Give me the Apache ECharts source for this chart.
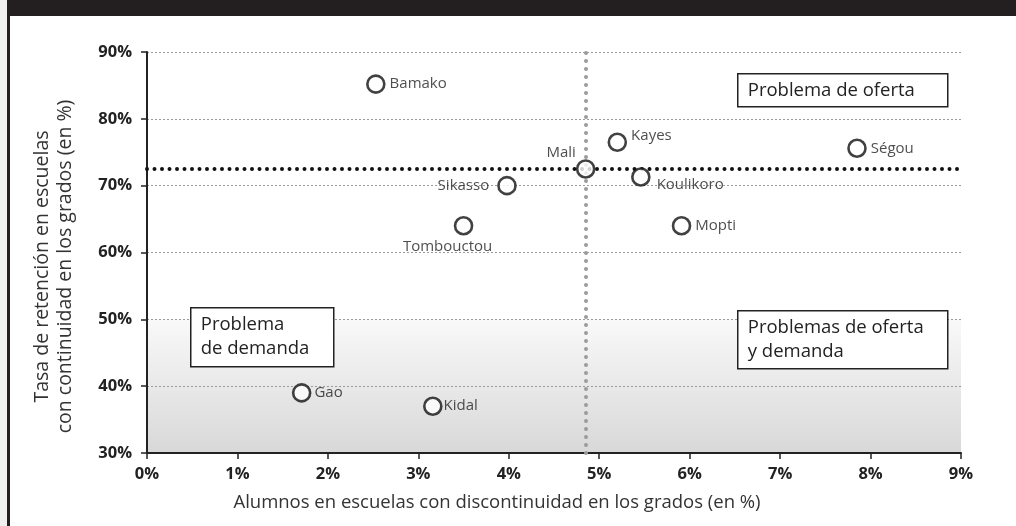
<!DOCTYPE html>
<html>
<head>
<meta charset="utf-8">
<script src="https://cdn.jsdelivr.net/npm/echarts@6/dist/echarts.min.js"></script>
<style>
  html, body { margin: 0; padding: 0; background: #fff; }
  #chart { width: 1016px; height: 526px; }
</style>
</head>
<body>
<div id="chart"></div>
<script>
// regiones de Malí
var regions   = ['Bamako', 'Kayes', 'Mali', 'Sikasso', 'Koulikoro', 'Tombouctou', 'Mopti', 'Ségou', 'Gao', 'Kidal'];
var pctDiscont = [2.53, 5.2, 4.85, 3.98, 5.46, 3.5, 5.91, 7.85, 1.71, 3.16];   // eje x (%)
var retention  = [85.2, 76.5, 72.5, 70.0, 71.3, 64.0, 64.0, 75.6, 39.0, 37.0]; // eje y (%)
var maliX = 4.85;
var maliY = 72.5;
var xTicks = [0, 9, 1];
var yTicks = [30, 90, 10];

// donde va cada etiqueta
var labelCfg = {
    'Bamako':     { position: 'right', distance: 4 },
    'Kayes':      { position: 'right', distance: 4, offset: [0, -6] },
    'Mali':       { position: 'left', distance: 2, offset: [2, -16] },
    'Sikasso':    { position: 'left', distance: 8 },
    'Koulikoro':  { position: 'right', distance: 6, offset: [0, 8] },
    'Tombouctou': { position: 'bottom', distance: 4, offset: [-16, 0] },
    'Mopti':      { position: 'right', distance: 4 },
    'Ségou':      { position: 'right', distance: 4 },
    'Gao':        { position: 'right', distance: 3 },
    'Kidal':      { position: 'right', distance: 1 }
};

var points = regions.map(function (name, i) {
    var l = labelCfg[name];
    return {
        name: name,
        value: [pctDiscont[i], retention[i]],
        label: {
            show: true,
            formatter: name,
            position: l.position,
            distance: l.distance,
            offset: l.offset || [0, 0]
        }
    };
});

var boxFont = '18.5px "Open Sans", sans-serif';

function box(x, y, w, h, text) {
    return {
        type: 'group',
        left: x, top: y,
        z: 100,
        children: [
            { type: 'rect', z: 100, shape: { x: 0, y: 0, width: w, height: h },
              style: { fill: '#fff', stroke: '#222', lineWidth: 1.5 } },
            { type: 'text', z: 101, x: 10, y: 5,
              style: { text: text, font: boxFont, fill: '#222', lineHeight: 24 } }
        ]
    };
}

var chart = echarts.init(document.getElementById('chart'));
chart.setOption({
    animation: false,
    backgroundColor: '#fff',
    grid: { left: 147, right: 55, top: 52, bottom: 73 },
    xAxis: {
        type: 'value',
        z: 3,
        min: xTicks[0], max: xTicks[1], interval: xTicks[2],
        name: 'Alumnos en escuelas con discontinuidad en los grados (en %)',
        nameLocation: 'middle',
        nameGap: 40,
        nameTextStyle: { fontFamily: 'Open Sans', fontSize: 18.5, color: '#333', padding: [0, 114, 0, 0] },
        axisLine: { show: true, onZero: false, lineStyle: { color: '#222', width: 2 } },
        axisTick: { show: true, length: 6, lineStyle: { color: '#222', width: 1.5 } },
        axisLabel: { formatter: '{value}%', fontFamily: 'Open Sans', fontWeight: 'bold', fontSize: 16.5, color: '#222', margin: 13 },
        splitLine: { show: false }
    },
    yAxis: {
        type: 'value',
        z: 3,
        min: yTicks[0], max: yTicks[1], interval: yTicks[2],
        name: 'Tasa de retención en escuelas\ncon continuidad en los grados (en %)',
        nameLocation: 'middle',
        nameGap: 70,
        nameRotate: 90,
        nameTextStyle: { fontFamily: 'Open Sans', fontSize: 19.5, color: '#333', lineHeight: 23, padding: [0, 28, 0, 0] },
        axisLine: { show: true, onZero: false, lineStyle: { color: '#222', width: 2 } },
        axisTick: { show: true, length: 6, lineStyle: { color: '#222', width: 1.5 } },
        axisLabel: { formatter: '{value}%', fontFamily: 'Open Sans', fontWeight: 'bold', fontSize: 16.5, color: '#222', margin: 15 },
        splitLine: { show: true, lineStyle: { color: '#9a9a9a', width: 1, type: [2, 2] } }
    },
    graphic: [
        { type: 'rect', left: 0, top: 0, shape: { width: 1016, height: 16 }, style: { fill: '#231f20' } },
        { type: 'rect', left: 0, top: 0, shape: { width: 7, height: 526 }, style: { fill: '#f0f0f0' } },
        { type: 'rect', left: 7, top: 16, shape: { width: 3, height: 510 }, style: { fill: '#231f20' } },
        box(737, 73, 210, 33, 'Problema de oferta'),
        box(190, 307, 143, 59, 'Problema\nde demanda'),
        box(737, 310, 210, 58, 'Problemas de oferta\ny demanda')
    ],
    series: [{
        type: 'scatter',
        data: points,
        symbol: 'circle',
        symbolSize: 17,
        z: 5,
        itemStyle: { color: '#fff', borderColor: '#111', borderWidth: 2.6 },
        label: { fontFamily: 'Open Sans', fontSize: 15, color: '#222' },
        markArea: {
            silent: true,
            z: 1,
            itemStyle: {
                color: {
                    type: 'linear', x: 0, y: 0, x2: 0, y2: 1,
                    colorStops: [
                        { offset: 0, color: '#f9f9f9' },
                        { offset: 1, color: '#d8d8d8' }
                    ]
                }
            },
            data: [[{ coord: [xTicks[0], 50] }, { coord: [xTicks[1], yTicks[0]] }]]
        },
        markLine: {
            silent: true,
            symbol: 'none',
            label: { show: false },
            z: 4,
            data: [
                { xAxis: maliX, lineStyle: { color: '#9b9b9b', width: 4, type: [0, 8], cap: 'round' } },
                { yAxis: maliY, lineStyle: { color: '#111', width: 4, type: [0, 7.5], cap: 'round' } }
            ]
        }
    }]
});
</script>
</body>
</html>
